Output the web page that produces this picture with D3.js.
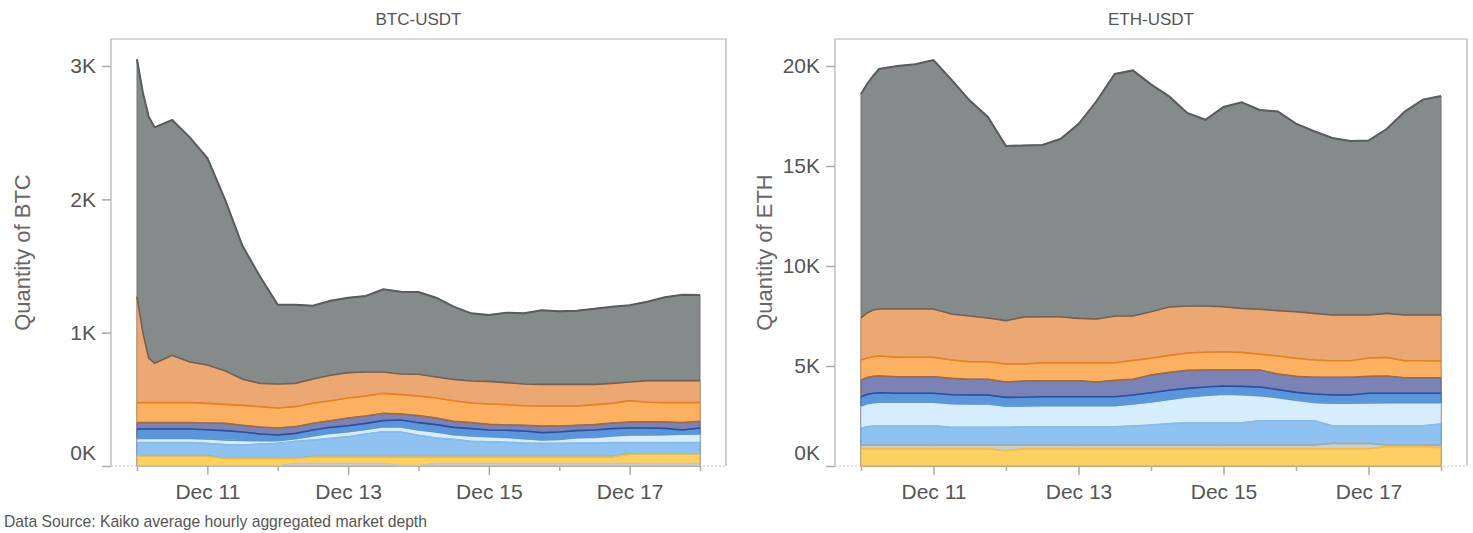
<!DOCTYPE html>
<html>
<head>
<meta charset="utf-8">
<script src="https://d3js.org/d3.v7.min.js"></script>
<style>
  body { margin: 0; background: #fff; }
  svg { display: block; font-family: 'Liberation Sans', Arial, sans-serif; }
</style>
</head>
<body>
<svg id="chart" width="1473" height="533"></svg>
<script>
// hours after Dec 10 00:00 (UTC) at which the depth was read
const hours = [0, 2, 4, 6, 12, 18, 24, 30, 36, 42, 48, 54, 60, 66, 72, 78, 84, 90, 96,
  102, 108, 114, 120, 126, 132, 138, 144, 150, 156, 162, 168, 174, 180, 186, 192];

// cumulative depth, level 1 = closest to mid price, level 10 = widest
const btcL1 = [0, 0, 0, 0, 0, 0, 0, 0, 0, 0, 0, 18, 18, 18, 18, 18, 18, 3, 3,
  18, 18, 18, 18, 18, 18, 18, 18, 18, 18, 18, 18, 18, 18, 18, 18];
const btcL2 = [73, 73, 73, 73, 73, 73, 73, 55, 55, 55, 55, 55, 68, 68, 68, 68, 68, 68, 68,
  68, 68, 68, 68, 68, 68, 68, 68, 68, 68, 68, 88, 88, 88, 88, 88];
const btcL3 = [76, 76, 76, 76, 76, 76, 76, 58, 58, 58, 58, 58, 71, 71, 71, 71, 71, 71, 71,
  71, 71, 71, 71, 71, 71, 71, 71, 71, 71, 71, 91, 91, 91, 91, 91];
const btcL4 = [175, 175, 175, 175, 175, 175, 170, 160, 157, 165, 170, 185, 195, 208, 220, 240, 257, 255, 230,
  210, 200, 185, 182, 178, 172, 170, 170, 172, 172, 175, 175, 175, 175, 175, 175];
const btcL5 = [207, 207, 207, 207, 207, 207, 202, 195, 192, 190, 190, 205, 225, 245, 257, 275, 295, 292, 270,
  255, 235, 225, 220, 215, 205, 195, 200, 212, 215, 225, 232, 232, 235, 238, 240];
const btcL6 = [277, 277, 277, 277, 277, 277, 272, 265, 255, 240, 232, 245, 270, 290, 302, 320, 340, 345, 325,
  310, 290, 280, 270, 268, 262, 250, 255, 265, 270, 280, 285, 285, 282, 270, 285];
const btcL7 = [325, 325, 325, 325, 325, 325, 322, 320, 305, 292, 285, 295, 320, 340, 360, 375, 395, 390, 378,
  360, 335, 325, 312, 308, 305, 300, 300, 305, 310, 322, 330, 332, 330, 325, 335];
const btcL8 = [475, 475, 475, 475, 475, 475, 470, 462, 455, 445, 435, 445, 470, 490, 510, 525, 545, 535, 525,
  510, 490, 472, 465, 460, 452, 450, 450, 450, 460, 470, 490, 478, 475, 475, 475];
const btcL9 = [1270, 1000, 810, 770, 830, 780, 757, 715, 650, 620, 615, 620, 652, 680, 700, 705, 705, 690, 688,
  668, 650, 638, 635, 625, 615, 612, 612, 612, 612, 620, 630, 640, 640, 640, 640];
const btcL10 = [3050, 2800, 2620, 2540, 2595, 2465, 2310, 2000, 1650, 1420, 1210, 1210, 1202, 1240, 1262, 1275, 1325, 1307, 1305,
  1262, 1195, 1145, 1132, 1150, 1145, 1168, 1160, 1165, 1180, 1195, 1205, 1232, 1265, 1285, 1282];

const ethL2 = [860, 860, 860, 860, 860, 860, 860, 860, 860, 860, 770, 860, 860, 860, 860, 860, 860, 860, 860,
  860, 860, 860, 860, 860, 860, 860, 860, 860, 860, 860, 860, 970, 970, 970, 920];
const ethL3 = [1050, 1050, 1050, 1050, 1050, 1050, 1050, 1050, 1050, 1050, 1050, 1050, 1050, 1050, 1050, 1050, 1050, 1050, 1050,
  1050, 1050, 1050, 1050, 1050, 1050, 1050, 1050, 1050, 1130, 1130, 1130, 1050, 1050, 1050, 1050];
const ethL4 = [1885, 1960, 2000, 2015, 2015, 2015, 2015, 1935, 1935, 1935, 1935, 1965, 1965, 1965, 1965, 1965, 1965, 2000, 2050,
  2120, 2165, 2165, 2165, 2165, 2265, 2265, 2265, 2265, 2015, 2015, 2015, 2015, 2015, 2015, 2100];
const ethL5 = [3000, 3110, 3170, 3185, 3185, 3185, 3185, 3120, 3100, 3100, 2990, 3000, 3015, 3015, 3015, 3015, 3015, 3100, 3200,
  3330, 3450, 3530, 3585, 3560, 3510, 3420, 3290, 3180, 3135, 3135, 3150, 3165, 3165, 3165, 3165];
const ethL6 = [3465, 3580, 3640, 3660, 3635, 3635, 3635, 3560, 3550, 3550, 3430, 3440, 3465, 3465, 3465, 3465, 3465, 3550, 3660,
  3790, 3880, 3950, 4000, 3980, 3950, 3820, 3680, 3600, 3550, 3550, 3635, 3635, 3635, 3635, 3635];
const ethL7 = [4300, 4420, 4480, 4500, 4465, 4465, 4465, 4380, 4335, 4335, 4200, 4250, 4265, 4265, 4265, 4200, 4280, 4335, 4550,
  4680, 4780, 4800, 4800, 4800, 4800, 4600, 4480, 4435, 4435, 4435, 4480, 4500, 4415, 4415, 4415];
const ethL8 = [5300, 5400, 5460, 5500, 5440, 5435, 5435, 5300, 5215, 5215, 5100, 5100, 5165, 5165, 5165, 5165, 5165, 5280, 5385,
  5530, 5650, 5690, 5715, 5680, 5590, 5500, 5390, 5300, 5265, 5265, 5400, 5430, 5265, 5265, 5250];
const ethL9 = [7400, 7650, 7800, 7850, 7850, 7850, 7850, 7600, 7500, 7400, 7270, 7450, 7460, 7460, 7380, 7350, 7500, 7500, 7715,
  7950, 8000, 8000, 7965, 7880, 7835, 7770, 7715, 7630, 7550, 7550, 7550, 7630, 7550, 7550, 7550];
const ethL10 = [18600, 19100, 19500, 19850, 20000, 20090, 20300, 19300, 18270, 17450, 16000, 16030, 16050, 16350, 17100, 18250, 19600, 19780, 19080,
  18480, 17650, 17310, 17950, 18180, 17800, 17730, 17120, 16740, 16400, 16250, 16270, 16850, 17720, 18320, 18500];

const btcTicks = [0, 1000, 2000, 3000];
const ethTicks = [0, 5000, 10000, 15000, 20000];

// fill and top-edge colour per level
const levelStyle = {
  L1: { fill: '#d3d3d3', line: '#c4c4c4' },
  L2: { fill: '#fed062', line: '#e9bf57' },
  L3: { fill: '#cdcdcd', line: '#98aca8' },
  L4: { fill: '#8fc2f1', line: '#88bbeb' },
  L5: { fill: '#d6edfd', line: '#5a93d6' },
  L6: { fill: '#5b96da', line: '#2b4ea3' },
  L7: { fill: '#7b82b6', line: '#9a6c4c' },
  L8: { fill: '#fcb062', line: '#e8801f' },
  L9: { fill: '#eba873', line: '#745f52' },
  L10: { fill: '#858a8b', line: '#575c5e' }
};

const start = new Date(Date.UTC(2022, 11, 10));
const end = new Date(Date.UTC(2022, 11, 18));
const times = hours.map(h => d3.utcHour.offset(start, h));

const frameTop = 39;
const frameBottom = 466;
const pad = 26;

const svg = d3.select('#chart');

const drawPanel = p => {
  const x = d3.scaleUtc()
    .domain([start, end])
    .range([p.x0 + pad, p.x1 - pad]);
  const y = d3.scaleLinear()
    .domain([0, p.yMax])
    .range([frameBottom, frameTop]);

  //frame: solid on three sides, dotted along the bottom
  svg.append('path')
    .attr('d', `M${p.x0},${frameBottom}V${frameTop}H${p.x1}V${frameBottom}`)
    .attr('fill', 'none')
    .attr('stroke', '#b2b2b2')
    .attr('stroke-width', 1.2);
  svg.append('line')
    .attr('x1', p.x0).attr('x2', p.x1)
    .attr('y1', frameBottom).attr('y2', frameBottom)
    .attr('stroke', '#c8c8c8')
    .attr('stroke-dasharray', '2,2');

  const area = d3.area()
    .x((d, i) => x(times[i]))
    .y0(y(0))
    .y1(d => y(d));
  const line = d3.line()
    .x((d, i) => x(times[i]))
    .y(d => y(d));

  //widest level first, so the narrower ones sit in front
  const levels = p.levels.slice().reverse();

  svg.append('g')
    .selectAll('path')
    .data(levels)
    .join('path')
      .attr('d', d => area(d.values))
      .attr('fill', d => levelStyle[d.key].fill)
      .attr('stroke', d => d3.color(levelStyle[d.key].fill).darker(0.5))
      .attr('stroke-width', 1);

  svg.append('g')
    .selectAll('path')
    .data(levels)
    .join('path')
      .attr('d', d => line(d.values))
      .attr('fill', 'none')
      .attr('stroke', d => levelStyle[d.key].line)
      .attr('stroke-width', d => d.key === 'L10' ? 2 : 1.6);

  //y axis
  const gy = svg.append('g')
    .attr('transform', `translate(${p.x0},0)`)
    .call(d3.axisLeft(y)
      .tickValues(p.yTicks)
      .tickSize(9)
      .tickPadding(6)
      .tickFormat(d => d / 1000 + 'K'));
  gy.select('.domain').remove();
  gy.attr('font-family', null);
  gy.selectAll('.tick line').attr('stroke', '#aaa').attr('stroke-width', 1.5);
  gy.selectAll('.tick text')
    .attr('font-size', 21)
    .attr('fill', '#555')
    .attr('dy', d => d === 0 ? -7 : '0.32em');

  //x axis, a tick every day, a label every other day
  const days = d3.utcDay.range(start, d3.utcDay.offset(end, 1));
  const fmt = d3.utcFormat('%b %d');
  const gx = svg.append('g')
    .attr('transform', `translate(0,${frameBottom})`)
    .call(d3.axisBottom(x)
      .tickValues(days)
      .tickSize(9)
      .tickPadding(9)
      .tickFormat(d => d.getUTCDate() % 2 ? fmt(d) : ''));
  gx.select('.domain').remove();
  gx.attr('font-family', null);
  gx.selectAll('.tick line')
    .attr('stroke', '#aaa')
    .attr('stroke-width', 1.5)
    .attr('y2', d => d.getUTCDate() % 2 ? 9 : 5);
  gx.selectAll('.tick text')
    .attr('font-size', 21)
    .attr('fill', '#555');

  //titles
  svg.append('text')
    .attr('x', (p.x0 + p.x1) / 2)
    .attr('y', 25)
    .attr('text-anchor', 'middle')
    .attr('font-size', 17)
    .attr('fill', '#555')
    .text(p.title);

  svg.append('text')
    .attr('transform', `translate(${p.yTitleX},${(frameTop + frameBottom) / 2}) rotate(-90)`)
    .attr('text-anchor', 'middle')
    .attr('dominant-baseline', 'central')
    .attr('font-size', 22)
    .attr('fill', '#666')
    .text(p.yTitle);
};

drawPanel({
  title: 'BTC-USDT',
  yTitle: 'Quantity of BTC',
  yTitleX: 22,
  x0: 111,
  x1: 726,
  yMax: 3202.5,
  yTicks: btcTicks,
  levels: [
    { key: 'L1', values: btcL1 }, { key: 'L2', values: btcL2 }, { key: 'L3', values: btcL3 },
    { key: 'L4', values: btcL4 }, { key: 'L5', values: btcL5 }, { key: 'L6', values: btcL6 },
    { key: 'L7', values: btcL7 }, { key: 'L8', values: btcL8 }, { key: 'L9', values: btcL9 },
    { key: 'L10', values: btcL10 }
  ]
});

drawPanel({
  title: 'ETH-USDT',
  yTitle: 'Quantity of ETH',
  yTitleX: 764,
  x0: 835,
  x1: 1467,
  yMax: 21350,
  yTicks: ethTicks,
  levels: [
    { key: 'L2', values: ethL2 }, { key: 'L3', values: ethL3 },
    { key: 'L4', values: ethL4 }, { key: 'L5', values: ethL5 }, { key: 'L6', values: ethL6 },
    { key: 'L7', values: ethL7 }, { key: 'L8', values: ethL8 }, { key: 'L9', values: ethL9 },
    { key: 'L10', values: ethL10 }
  ]
});

svg.append('text')
  .attr('x', 4)
  .attr('y', 527)
  .attr('font-size', 15.7)
  .attr('fill', '#555')
  .text('Data Source: Kaiko average hourly aggregated market depth');
</script>
</body>
</html>
